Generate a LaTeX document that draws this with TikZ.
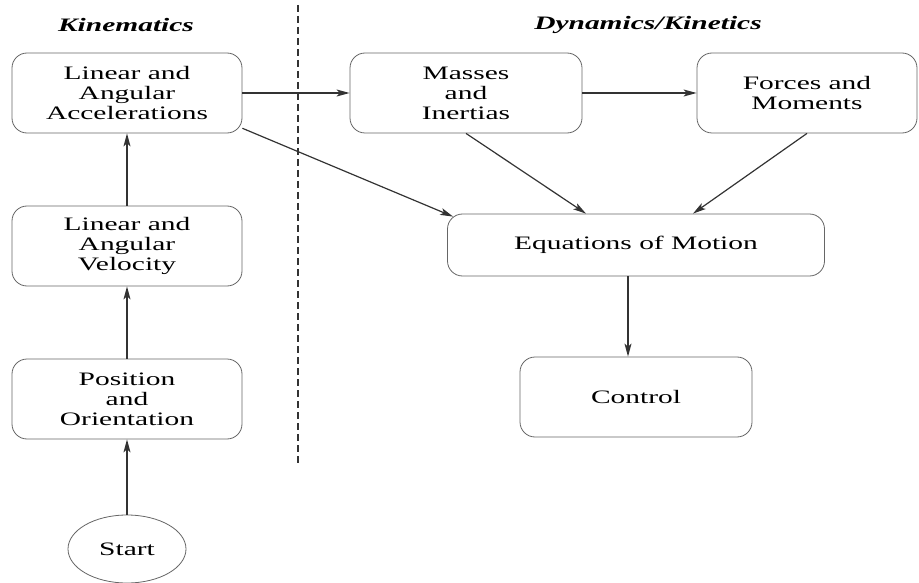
\documentclass[tikz,border=0pt]{standalone}
\usepackage{fontspec}
\setmainfont[FakeStretch=1.55]{Liberation Serif}
\usetikzlibrary{positioning,arrows.meta,shapes.geometric,calc}

\begin{document}
\begin{tikzpicture}[
		x=1pt, y=-1pt,
		>={Stealth[length=13pt,width=7pt,inset=3pt]},
		stage_box/.style={
			rectangle, rounded corners=15pt, draw=black!60, line width=0.8pt, fill=white,
			minimum width=230pt, minimum height=80pt, inner sep=2pt,
			font=\fontsize{19}{20}\selectfont, align=center
		},
		start_node/.style={ellipse, draw=black!60, line width=0.8pt, minimum width=118pt, minimum height=68pt,
			font=\fontsize{19}{20}\selectfont},
		heading/.style={font=\fontsize{19}{20}\selectfont\bfseries\itshape},
		flow/.style={->, line width=1.2pt, draw=black!80}
		]
		\useasboundingbox (0,0) rectangle (919,583);
		
		% --- HEADINGS AND SEPARATOR ---
		\node[heading] (kin) at (126,25) {Kinematics};
		\node[heading] (dyn) at (648,25) {Dynamics/Kinetics};
		\coordinate (sep_top) at (298,5);
		\coordinate (sep_bot) at (298,465);
		\draw[dash pattern=on 7pt off 4pt, line width=2pt, draw=black!80] (sep_top) -- (sep_bot);
		
		% --- KINEMATICS TRACK (bottom to top) ---
		\node[stage_box] (acc) at (127,93) {Linear and\\Angular\\Accelerations};
		\node[stage_box] (vel) at (127,246) {Linear and\\Angular\\Velocity};
		\node[stage_box] (pos) at (127,399) {Position\\and\\Orientation};
		\node[start_node] (start) at (127,549) {Start};
		
		% --- DYNAMICS TRACK ---
		\node[stage_box, minimum width=232pt] (mass) at (466,93) {Masses\\and\\Inertias};
		\node[stage_box, minimum width=220pt] (force) at (807,93) {Forces and\\Moments};
		\node[stage_box, minimum width=377pt, minimum height=62pt] (eom) at (636,245) {Equations of Motion};
		\node[stage_box, minimum width=232pt] (ctrl) at (636,397) {Control};
		
		% --- CONNECTIONS ---
		\draw[flow] (start.north) -- (pos.south);
		\draw[flow] (pos.north) -- (vel.south);
		\draw[flow] (vel.north) -- (acc.south);
		
		\draw[flow] (acc.east) -- (mass.west);
		\draw[flow] (mass.east) -- (force.west);
		
		\draw[flow] (acc.-17) -- ([xshift=6pt,yshift=-3pt]eom.north west);
		\draw[flow] (mass.south) -- ([xshift=-50pt]eom.north);
		\draw[flow] (force.south) -- ([xshift=57pt]eom.north);
		
		\draw[flow] ([xshift=-8pt]eom.south) -- ([xshift=-8pt]ctrl.north);
		
	\end{tikzpicture}
\end{document}
